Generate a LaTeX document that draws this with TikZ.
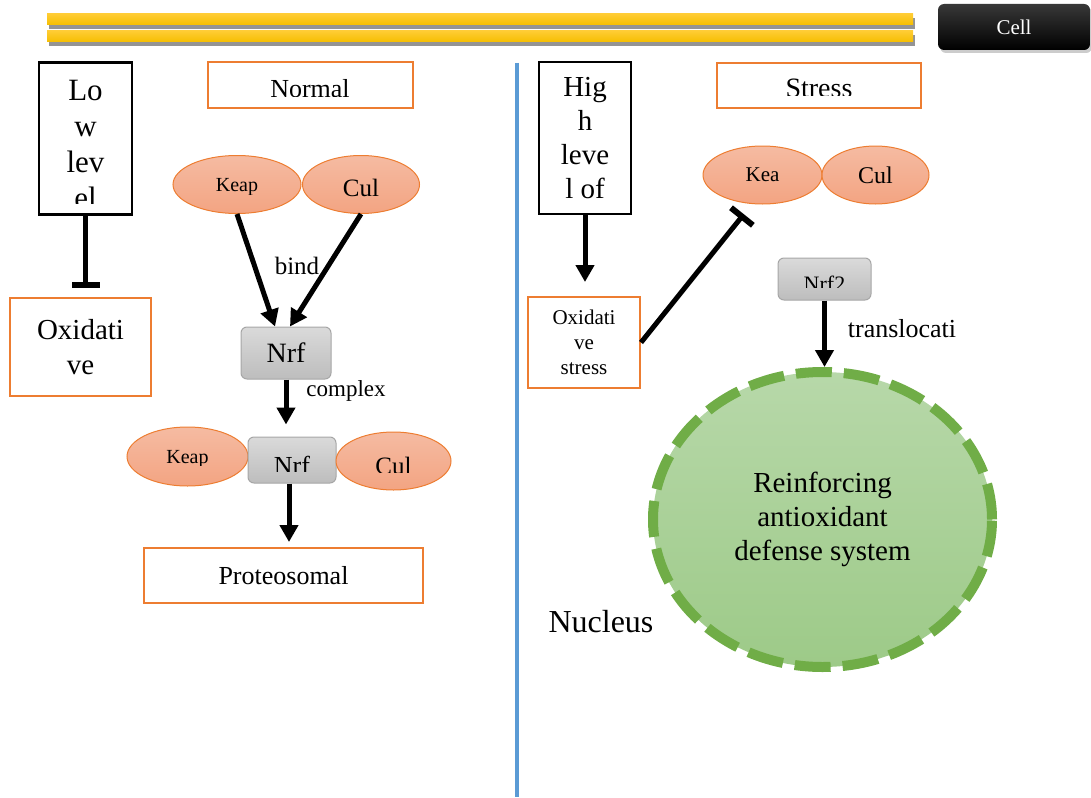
\documentclass[tikz,border=0pt]{standalone}
\usepackage{fontspec}
\setmainfont{Liberation Serif}
\usetikzlibrary{positioning,shapes.geometric,arrows.meta,shadows}
\definecolor{Gold}{HTML}{F5BE00}
\definecolor{GoldLight}{HTML}{FFCC33}
\definecolor{Orange}{HTML}{ED7D31}
\definecolor{Salmon}{HTML}{F5BBA2}
\definecolor{SalmonDark}{HTML}{F3A482}
\definecolor{Steel}{HTML}{5B9BD5}
\definecolor{GreyLight}{HTML}{DADADA}
\definecolor{GreyDark}{HTML}{BDBDBD}
\definecolor{GreyEdge}{HTML}{A6A6A6}
\definecolor{Leaf}{HTML}{70AD47}
\definecolor{LeafLight}{HTML}{B7D8A9}
\definecolor{LeafDark}{HTML}{9DCA88}
\newcommand{\fsize}[2]{\fontsize{#1}{#2}\selectfont}
% text that the box cuts off at the bottom
\newcommand{\cuttext}[5][]{%
  \begin{scope}
    \clip (#2.north -| #2.west) rectangle ([yshift=#3]#2.south -| #2.east);
    \node[anchor=north,inner sep=0pt,align=center,#1] (#2-text) at ([yshift=-#4]#2.north) {#5};
  \end{scope}}
\tikzset{
  gold bar/.style={top color=GoldLight,bottom color=Gold,
    drop shadow={shadow xshift=2pt,shadow yshift=-4pt,opacity=.7,fill=black!60}},
  cell box/.style={rounded corners=6pt,top color=black!78,bottom color=black,
    text=white,minimum width=152pt,minimum height=46pt,inner sep=0pt,
    font=\fsize{21}{25},drop shadow={shadow xshift=2pt,shadow yshift=-3pt,opacity=.4}},
  level box/.style={draw=black,line width=2.5pt,fill=white,minimum width=93pt,
    minimum height=152pt,inner sep=0pt,align=center},
  state box/.style={draw=Orange,line width=2pt,fill=white,inner sep=0pt,align=center},
  protein/.style={ellipse,draw=Orange,line width=1pt,top color=Salmon,
    bottom color=SalmonDark,inner sep=0pt,minimum height=58pt},
  factor/.style={draw=GreyEdge,line width=1pt,rounded corners=6pt,top color=GreyLight,
    bottom color=GreyDark,inner sep=0pt},
  flow arrow/.style={-{Triangle[width=18pt,length=17pt]},line width=5pt},
  block arrow/.style={-{Bar[width=28pt,line width=6pt]},line width=5pt},
  side label/.style={inner sep=0pt}
}
\begin{document}
\begin{tikzpicture}[x=1pt,y=-1pt]
  \useasboundingbox (0,0) rectangle (1091,797);
  \path[gold bar] (47,14) rectangle (913,25);
  \path[gold bar] (47,31) rectangle (913,42);
  \node[cell box] (cell) at (1014,27) {Cell};
  \draw[Steel,line width=4pt] (517,63) -- (517,797);

  % normal
  \node[level box] (lowlevel) at (85.5,138.5) {};
  \cuttext[font=\fsize{31}{36}]{lowlevel}{12pt}{19pt}{Lo\\w\\lev\\el}
  \node[state box,minimum width=141pt,minimum height=98pt,font=\fsize{29}{35}] (oxleft) at (80.5,347) {Oxidati\\ve};
  \node[state box,minimum width=205pt,minimum height=46pt] (normal) at (310,85) {};
  \cuttext[font=\fsize{26}{30}]{normal}{12pt}{18pt}{Normal}
  \node[protein,minimum width=128pt] (keap) at (237,184.5) {};
  \cuttext[font=\fsize{20}{24}]{keap}{20pt}{23pt}{Keap}
  \node[protein,minimum width=117pt] (cul) at (361,184.5) {};
  \cuttext[font=\fsize{25}{30}]{cul}{18pt}{24pt}{Cul}
  \node[factor,minimum width=90pt,minimum height=52pt,font=\fsize{28}{32}] (nrf) at (286,353) {Nrf};
  \node[side label,font=\fsize{25}{30}] (bind) at (297,266) {bind};
  \node[side label,font=\fsize{23}{28}] (complex) at (346,391) {complex};
  \node[protein,minimum width=121pt,minimum height=59pt] (keapbound) at (187.5,456.5) {};
  \cuttext[font=\fsize{20}{24}]{keapbound}{21pt}{24pt}{Keap}
  \node[factor,minimum width=88pt,minimum height=46pt] (nrfbound) at (292,460) {};
  \cuttext[font=\fsize{26}{30}]{nrfbound}{12pt}{19pt}{Nrf}
  \node[protein,minimum width=115pt] (culbound) at (393.5,461) {};
  \cuttext[font=\fsize{25}{30}]{culbound}{18pt}{25pt}{Cul}
  \node[state box,minimum width=279pt,minimum height=55pt,font=\fsize{26}{30}] (proteo) at (283.5,575.5) {Proteosomal};

  \draw[block arrow,shorten >=9pt] (lowlevel.south) -- (lowlevel.south |- oxleft.north);
  \draw[flow arrow] (keap.south) -- ([xshift=-11pt]nrf.north);
  \draw[flow arrow] (cul.south) -- ([xshift=4pt]nrf.north);
  \draw[flow arrow,shorten >=12pt] (nrf.south) -- (nrf.south |- nrfbound.north);
  \draw[flow arrow,shorten >=5pt] ([xshift=-3pt]nrfbound.south) -- ([xshift=-3pt]nrfbound.south |- proteo.north);

  % stress
  \node[level box,minimum width=92pt,font=\fsize{29}{34}] (highlevel) at (585,138) {Hig\\h\\leve\\l of};
  \node[state box,minimum width=112pt,minimum height=91pt,font=\fsize{21}{25}] (oxright) at (584,342.5) {Oxidati\\ve\\stress};
  \node[state box,minimum width=204pt,minimum height=45pt] (stress) at (819,85.5) {};
  \cuttext[font=\fsize{28}{32}]{stress}{13pt}{17pt}{Stress}
  \node[protein,minimum width=119pt,font=\fsize{21}{25}] (kea) at (762.5,175) {Kea};
  \node[protein,minimum width=107pt,font=\fsize{24}{28}] (culfree) at (875.5,175) {Cul};
  \node[factor,minimum width=93pt,minimum height=42pt] (nrffree) at (824.5,279) {};
  \cuttext[font=\fsize{22}{26}]{nrffree}{13pt}{18pt}{Nrf2}
  \node[side label,font=\fsize{26}{30}] (transloc) at (902,329) {translocati};
  \node[ellipse,minimum width=339pt,minimum height=295pt,draw=Leaf,line width=10pt,
    dash pattern=on 36pt off 12pt,top color=LeafLight,bottom color=LeafDark,
    align=center,font=\fsize{29}{34}] (nucleus) at (822.5,519.5) {Reinforcing\\antioxidant\\defense system};
  \node[side label,font=\fsize{32}{36}] (nuclabel) at (601,622) {Nucleus};

  \draw[flow arrow,shorten >=14pt] (highlevel.south) -- (highlevel.south |- oxright.north);
  \draw[block arrow,shorten >=13pt] (oxright.east) -- (kea.250);
  \draw[flow arrow] (nrffree.south) -- (nrffree.south |- nucleus.north);
\end{tikzpicture}
\end{document}
